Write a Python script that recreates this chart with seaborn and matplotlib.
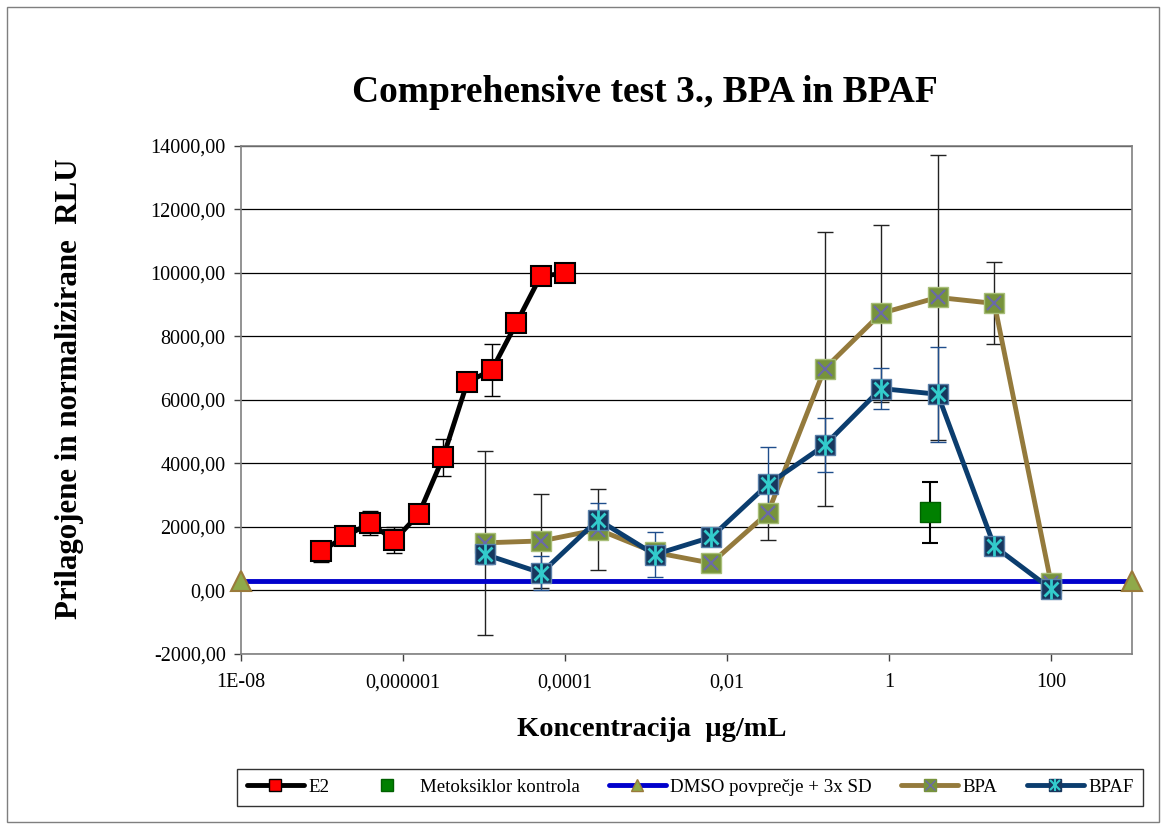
import matplotlib
matplotlib.use("Agg")
import matplotlib.pyplot as plt
import seaborn as sns
import numpy as np
import pandas as pd
from matplotlib.lines import Line2D
from matplotlib.legend_handler import HandlerTuple
from matplotlib.patches import Rectangle
from matplotlib.ticker import FixedLocator, FuncFormatter, NullLocator

# ---------------- data ----------------
e2_x = [9.77e-8, 1.95e-7, 3.91e-7, 7.81e-7, 1.5625e-6, 3.125e-6, 6.25e-6, 1.25e-5, 2.5e-5, 5e-5, 1e-4]
e2_y = [1230, 1710, 2120, 1580, 2400, 4190, 6570, 6940, 8410, 9900, 9990]
e2_err = [330, 120, 370, 410, 150, 580, 150, 830, 150, 100, 100]

bp_x = [1.024e-5, 5.12e-5, 2.56e-4, 1.28e-3, 6.4e-3, 0.032, 0.16, 0.8, 4, 20, 100]
bpa_y = [1500, 1560, 1920, 1200, 860, 2440, 6980, 8730, 9230, 9040, 250]
bpa_err = [2900, 1470, 1280, 300, 200, 840, 4320, 2780, 4500, 1290, 200]
bpaf_y = [1140, 550, 2230, 1130, 1680, 3340, 4570, 6360, 6180, 1390, 50]
bpaf_err = [300, 530, 540, 720, 200, 1190, 850, 660, 1500, 150, 300]

met_x = [3.2]
met_y = [2470]
met_err = [960]

dmso_x = [1e-8, 1000]
dmso_y = [290, 290]

x_tick_vals = [1e-8, 1e-6, 1e-4, 1e-2, 1, 100]
x_tick_labels = ["1E-08", "0,000001", "0,0001", "0,01", "1", "100"]
y_ticks = [-2000, 0, 2000, 4000, 6000, 8000, 10000, 12000, 14000]

series_names = ["E2", "Metoksiklor kontrola", "DMSO povprečje + 3x SD", "BPA", "BPAF"]

# ---------------- style ----------------
sns.set_theme(style="white")
plt.rcParams['font.family'] = ['Liberation Serif', 'DejaVu Serif']
plt.rcParams['text.color'] = 'black'
plt.rcParams['axes.labelcolor'] = 'black'
plt.rcParams['xtick.color'] = 'black'
plt.rcParams['ytick.color'] = 'black'

fig = plt.figure(figsize=(11.66, 8.25), dpi=100)
ax = fig.add_axes([0.2067, 0.2073, 0.7641, 0.6158])

# outer chart border
fig.patches.append(Rectangle((0.006, 0.004), 0.988, 0.988, transform=fig.transFigure,
                             fill=False, edgecolor="#7f7f7f", linewidth=1.0))

ax.set_xscale("log")
ax.set_xlim(1e-8, 1000)
ax.set_ylim(-2000, 14000)

# gridlines
for yv in y_ticks:
    ax.axhline(yv, color="black", linewidth=0.9, zorder=0)

E2_C = "black"
BPA_LINE = "#947A3C"
BPA_FACE = "#77933C"
BPA_X = "#6A6AA8"
BPAF_LINE = "#0B3D6E"
BPAF_FACE = "#17375E"
BPAF_X = "#33CCCC"
DMSO_C = "#0000CC"
TRI_FACE = "#8FA94A"
TRI_EDGE = "#9A7A3A"

# error bars
ax.errorbar(e2_x, e2_y, yerr=e2_err, fmt="none", ecolor="black", elinewidth=1, capsize=6, capthick=1, zorder=2)
ax.errorbar(bp_x, bpa_y, yerr=bpa_err, fmt="none", ecolor="#222222", elinewidth=1, capsize=6, capthick=1, zorder=2)
ax.errorbar(bp_x, bpaf_y, yerr=bpaf_err, fmt="none", ecolor="#1F4E8C", elinewidth=1, capsize=6, capthick=1, zorder=2)
ax.errorbar(met_x, met_y, yerr=met_err, fmt="none", ecolor="black", elinewidth=1.5, capsize=6, capthick=1.5, zorder=2)

# DMSO line
dmso_df = pd.DataFrame({"x": dmso_x, "y": dmso_y})
sns.lineplot(data=dmso_df, x="x", y="y", ax=ax, color=DMSO_C, linewidth=3.5, marker="^",
             markersize=14, markerfacecolor=TRI_FACE, markeredgecolor=TRI_EDGE, markeredgewidth=1.5,
             zorder=3, clip_on=False)

# BPA
bpa_df = pd.DataFrame({"x": bp_x, "y": bpa_y})
sns.lineplot(data=bpa_df, x="x", y="y", ax=ax, color=BPA_LINE, linewidth=3.5, marker="s",
             markersize=14, markerfacecolor=BPA_FACE, markeredgecolor="#A8BE78", markeredgewidth=1,
             zorder=4)
ax.plot(bp_x, bpa_y, linestyle="none", marker="x", markersize=10, markeredgecolor=BPA_X,
        markeredgewidth=1.5, zorder=5)

# BPAF
bpaf_df = pd.DataFrame({"x": bp_x, "y": bpaf_y})
sns.lineplot(data=bpaf_df, x="x", y="y", ax=ax, color=BPAF_LINE, linewidth=3.5, marker="s",
             markersize=14, markerfacecolor=BPAF_FACE, markeredgecolor="#5A7FA8", markeredgewidth=1,
             zorder=6)
ax.plot(bp_x, bpaf_y, linestyle="none", marker="x", markersize=10, markeredgecolor=BPAF_X,
        markeredgewidth=2, zorder=7)
ax.plot(bp_x, bpaf_y, linestyle="none", marker="|", markersize=14, markeredgecolor=BPAF_X,
        markeredgewidth=2, zorder=7)

# E2
e2_df = pd.DataFrame({"x": e2_x, "y": e2_y})
sns.lineplot(data=e2_df, x="x", y="y", ax=ax, color=E2_C, linewidth=3.5, marker="s",
             markersize=14, markerfacecolor="#FF0000", markeredgecolor="black", markeredgewidth=1.5,
             zorder=8)

# Metoksiklor
met_df = pd.DataFrame({"x": met_x, "y": met_y})
sns.scatterplot(data=met_df, x="x", y="y", ax=ax, color="#008000", marker="s", s=200,
                edgecolor="#006000", linewidth=1, zorder=9)

# axes formatting
ax.xaxis.set_major_locator(FixedLocator(x_tick_vals))
ax.xaxis.set_minor_locator(NullLocator())
ax.set_xticklabels(x_tick_labels)
ax.yaxis.set_major_locator(FixedLocator(y_ticks))
ax.yaxis.set_major_formatter(FuncFormatter(lambda v, p: ("%.2f" % v).replace(".", ",")))
ax.tick_params(axis="both", which="major", labelsize=14.5, direction="out", length=5,
               width=1, color="#404040", bottom=True, left=True, pad=6)
ax.tick_params(axis="x", pad=9)
for s in ax.spines.values():
    s.set_color("#808080")
    s.set_linewidth(1.2)

ax.set_xlabel("Koncentracija  µg/mL", fontsize=20.5, fontweight="bold")
ax.set_ylabel("Prilagojene in normalizirane  RLU", fontsize=22.2, fontweight="bold")
ax.xaxis.set_label_coords(0.461, -0.125)
ax.yaxis.set_label_coords(-0.176, 0.522)
fig.text(0.553, 0.888, "Comprehensive test 3., BPA in BPAF", fontsize=27, fontweight="bold",
         ha="center", va="center")

# legend
h_e2 = Line2D([], [], color="black", linewidth=3.5, marker="s", markersize=9,
              markerfacecolor="#FF0000", markeredgecolor="black")
h_met = Line2D([], [], linestyle="none", marker="s", markersize=9, markerfacecolor="#008000",
               markeredgecolor="#006000")
h_dmso = Line2D([], [], color=DMSO_C, linewidth=3.5, marker="^", markersize=9,
                markerfacecolor=TRI_FACE, markeredgecolor=TRI_EDGE)
h_bpa = (Line2D([], [], color=BPA_LINE, linewidth=3.5, marker="s", markersize=9,
                markerfacecolor=BPA_FACE, markeredgecolor=BPA_FACE),
         Line2D([], [], linestyle="none", marker="x", markersize=7, markeredgecolor=BPA_X))
h_bpaf = (Line2D([], [], color=BPAF_LINE, linewidth=3.5, marker="s", markersize=9,
                 markerfacecolor=BPAF_FACE, markeredgecolor=BPAF_FACE),
          Line2D([], [], linestyle="none", marker="x", markersize=7, markeredgecolor=BPAF_X,
                 markeredgewidth=1.5),
          Line2D([], [], linestyle="none", marker="|", markersize=9, markeredgecolor=BPAF_X,
                 markeredgewidth=1.5))
leg = fig.legend([h_e2, h_met, h_dmso, h_bpa, h_bpaf], series_names, loc="center",
                 bbox_to_anchor=(0.592, 0.0455), ncol=5, fontsize=13.6, frameon=True,
                 fancybox=False, edgecolor="black", handlelength=3.0, handletextpad=0.25,
                 columnspacing=1.55, borderpad=0.5,
                 handler_map={tuple: HandlerTuple(ndivide=1, pad=0)})
leg.get_frame().set_linewidth(1.0)

fig.savefig("out.png", dpi=100)
